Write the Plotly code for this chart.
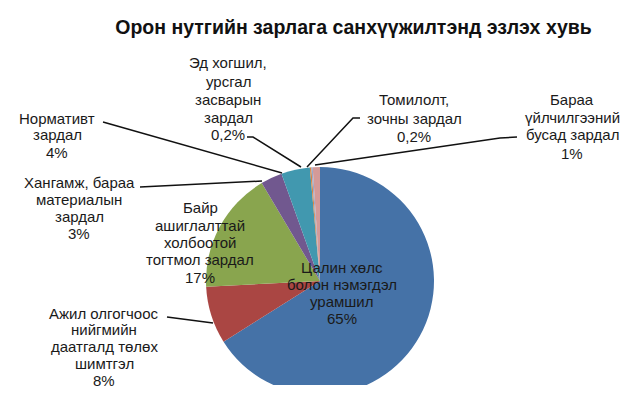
import plotly.graph_objects as go

# ---- data ----
categories = [
    "Цалин хөлс болон нэмэгдэл урамшил",
    "Ажил олгогчоос нийгмийн даатгалд төлөх шимтгэл",
    "Байр ашиглалттай холбоотой тогтмол зардал",
    "Хангамж, бараа материалын зардал",
    "Нормативт зардал",
    "Эд хогшил, урсгал засварын зардал",
    "Томилолт, зочны зардал",
    "Бараа үйлчилгээний бусад зардал",
]
values = [65, 8, 17, 3, 4, 0.2, 0.2, 1]
label_lines = [
    ["Цалин хөлс", "болон нэмэгдэл", "урамшил"],
    ["Ажил олгогчоос", "нийгмийн", "даатгалд төлөх", "шимтгэл"],
    ["Байр", "ашиглалттай", "холбоотой", "тогтмол зардал"],
    ["Хангамж, бараа", "материалын", "зардал"],
    ["Нормативт", "зардал"],
    ["Эд хогшил,", "урсгал", "засварын", "зардал"],
    ["Томилолт,", "зочны зардал"],
    ["Бараа", "үйлчилгээний", "бусад зардал"],
]
title_text = "Орон нутгийн зарлага санхүүжилтэнд эзлэх хувь"

# ---- style / layout ----
WIN_W, WIN_H = 632, 398
OFF = 8  # page body margin
W, H = WIN_W - OFF, WIN_H - OFF

colors = ["#4572A7", "#AA4643", "#89A54E", "#71588F", "#4198AF",
          "#DB843D", "#93A9CF", "#D49A98"]
# label centre x, first-line y, line pitch (window pixels)
label_pos = [(342, 267, 17), (104, 313, 16.8), (200, 208, 17.3),
             (79, 183, 16.7), (57, 118, 17), (228, 63, 18),
             (414, 99, 19), (572, 99, 18)]
leaders = [
    None,
    [(167, 317), (213, 323)],
    None,
    [(140, 187), (262, 181)],
    [(103, 122), (282, 173)],
    [(247, 137), (253, 137), (301, 167)],
    [(360, 118), (353, 118), (307, 167)],
    [(517, 137), (500, 138), (315, 165)],
]
FONT = "Liberation Sans, Arial, sans-serif"
LABEL_SIZE = 15


def px(x):
    return (x - OFF) / W


def py(y):
    return 1 - (y - OFF) / H


def fmt_pct(v):
    return ("%g" % v).replace(".", ",") + "%"


cx, cy, r = 320, 281, 114

fig = go.Figure(go.Pie(
    labels=categories,
    values=values,
    sort=False,
    direction="clockwise",
    rotation=0,
    textinfo="none",
    hoverinfo="label+percent",
    marker=dict(colors=colors, line=dict(width=0)),
    domain=dict(x=[px(cx - r), px(cx + r)], y=[py(cy + r), py(cy - r)]),
    showlegend=False,
))

shapes = [
    dict(type="rect", xref="paper", yref="paper", x0=0, x1=1,
         y0=-0.1, y1=py(385), fillcolor="white", line=dict(width=0), layer="above"),
]
for pts in leaders:
    if not pts:
        continue
    path = "M " + " L ".join(f"{px(x)},{py(y)}" for x, y in pts)
    shapes.append(dict(type="path", xref="paper", yref="paper", path=path,
                       line=dict(color="#111111", width=1.5), layer="above"))

annotations = []
for lines, v, (lx, ly, pitch) in zip(label_lines, values, label_pos):
    for i, line in enumerate(lines + [fmt_pct(v)]):
        annotations.append(dict(
            x=px(lx), y=py(ly + i * pitch), xref="paper", yref="paper",
            text=line, showarrow=False, xanchor="center", yanchor="middle",
            font=dict(family=FONT, size=LABEL_SIZE, color="#1a1a1a"),
        ))

fig.update_layout(
    width=W, height=H,
    margin=dict(l=0, r=0, t=0, b=0),
    paper_bgcolor="white", plot_bgcolor="white",
    title=dict(text="<b>" + title_text + "</b>", x=px(353.5), y=py(27),
               xanchor="center", yanchor="middle",
               font=dict(family=FONT, size=19.5, color="#111111")),
    shapes=shapes,
    annotations=annotations,
)

fig.write_html("out.html")
